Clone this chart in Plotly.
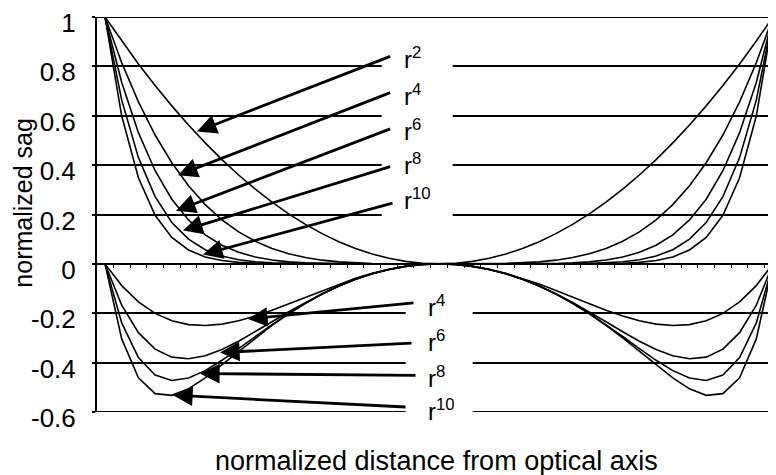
import plotly.graph_objects as go

# ---------------- data ----------------
x_vals = [-1.0, -0.95, -0.9, -0.85, -0.8, -0.75, -0.7, -0.65, -0.6, -0.55, -0.5,
          -0.45, -0.4, -0.35, -0.3, -0.25, -0.2, -0.15, -0.1, -0.05, 0.0,
          0.05, 0.1, 0.15, 0.2, 0.25, 0.3, 0.35, 0.4, 0.45, 0.5,
          0.55, 0.6, 0.65, 0.7, 0.75, 0.8, 0.85, 0.9, 0.95, 1.0]

sag_r2 = [1.0, 0.9025, 0.81, 0.7225, 0.64, 0.5625, 0.49, 0.4225, 0.36, 0.3025, 0.25,
          0.2025, 0.16, 0.1225, 0.09, 0.0625, 0.04, 0.0225, 0.01, 0.0025, 0.0,
          0.0025, 0.01, 0.0225, 0.04, 0.0625, 0.09, 0.1225, 0.16, 0.2025, 0.25,
          0.3025, 0.36, 0.4225, 0.49, 0.5625, 0.64, 0.7225, 0.81, 0.9025, 1.0]
sag_r4 = [1.0, 0.8145, 0.6561, 0.522, 0.4096, 0.3164, 0.2401, 0.1785, 0.1296, 0.0915, 0.0625,
          0.041, 0.0256, 0.015, 0.0081, 0.0039, 0.0016, 0.0005, 0.0001, 0.0, 0.0,
          0.0, 0.0001, 0.0005, 0.0016, 0.0039, 0.0081, 0.015, 0.0256, 0.041, 0.0625,
          0.0915, 0.1296, 0.1785, 0.2401, 0.3164, 0.4096, 0.522, 0.6561, 0.8145, 1.0]
sag_r6 = [1.0, 0.7351, 0.5314, 0.3772, 0.2621, 0.178, 0.1176, 0.0754, 0.0467, 0.0277, 0.0156,
          0.0083, 0.0041, 0.0018, 0.0007, 0.0002, 0.0001, 0.0, 0.0, 0.0, 0.0,
          0.0, 0.0, 0.0, 0.0001, 0.0002, 0.0007, 0.0018, 0.0041, 0.0083, 0.0156,
          0.0277, 0.0467, 0.0754, 0.1176, 0.178, 0.2621, 0.3772, 0.5314, 0.7351, 1.0]
sag_r8 = [1.0, 0.6634, 0.4305, 0.2725, 0.1678, 0.1001, 0.0576, 0.0319, 0.0168, 0.0084, 0.0039,
          0.0017, 0.0007, 0.0002, 0.0001, 0.0, 0.0, 0.0, 0.0, 0.0, 0.0,
          0.0, 0.0, 0.0, 0.0, 0.0, 0.0001, 0.0002, 0.0007, 0.0017, 0.0039,
          0.0084, 0.0168, 0.0319, 0.0576, 0.1001, 0.1678, 0.2725, 0.4305, 0.6634, 1.0]
sag_r10 = [1.0, 0.5987, 0.3487, 0.1969, 0.1074, 0.0563, 0.0282, 0.0135, 0.006, 0.0025, 0.001,
           0.0003, 0.0001, 0.0, 0.0, 0.0, 0.0, 0.0, 0.0, 0.0, 0.0,
           0.0, 0.0, 0.0, 0.0, 0.0, 0.0, 0.0, 0.0001, 0.0003, 0.001,
           0.0025, 0.006, 0.0135, 0.0282, 0.0563, 0.1074, 0.1969, 0.3487, 0.5987, 1.0]

low_r4 = [0.0, -0.088, -0.1539, -0.2005, -0.2304, -0.2461, -0.2499, -0.244, -0.2304, -0.211, -0.1875,
          -0.1615, -0.1344, -0.1075, -0.0819, -0.0586, -0.0384, -0.022, -0.0099, -0.0025, 0.0,
          -0.0025, -0.0099, -0.022, -0.0384, -0.0586, -0.0819, -0.1075, -0.1344, -0.1615, -0.1875,
          -0.211, -0.2304, -0.244, -0.2499, -0.2461, -0.2304, -0.2005, -0.1539, -0.088, 0.0]
low_r6 = [0.0, -0.1674, -0.2786, -0.3454, -0.3779, -0.3845, -0.3724, -0.3471, -0.3133, -0.2748, -0.2344,
          -0.1942, -0.1559, -0.1207, -0.0893, -0.0623, -0.0399, -0.0225, -0.01, -0.0025, 0.0,
          -0.0025, -0.01, -0.0225, -0.0399, -0.0623, -0.0893, -0.1207, -0.1559, -0.1942, -0.2344,
          -0.2748, -0.3133, -0.3471, -0.3724, -0.3845, -0.3779, -0.3454, -0.2786, -0.1674, 0.0]
low_r8 = [0.0, -0.2391, -0.3795, -0.45, -0.4722, -0.4624, -0.4324, -0.3906, -0.3432, -0.2941, -0.2461,
          -0.2008, -0.1593, -0.1223, -0.0899, -0.0625, -0.04, -0.0225, -0.01, -0.0025, 0.0,
          -0.0025, -0.01, -0.0225, -0.04, -0.0625, -0.0899, -0.1223, -0.1593, -0.2008, -0.2461,
          -0.2941, -0.3432, -0.3906, -0.4324, -0.4624, -0.4722, -0.45, -0.3795, -0.2391, 0.0]
low_r10 = [0.0, -0.3038, -0.4613, -0.5256, -0.5326, -0.5062, -0.4618, -0.409, -0.354, -0.3, -0.249,
           -0.2022, -0.1599, -0.1225, -0.09, -0.0625, -0.04, -0.0225, -0.01, -0.0025, 0.0,
           -0.0025, -0.01, -0.0225, -0.04, -0.0625, -0.09, -0.1225, -0.1599, -0.2022, -0.249,
           -0.3, -0.354, -0.409, -0.4618, -0.5062, -0.5326, -0.5256, -0.4613, -0.3038, 0.0]

y_tick_vals = [-0.6, -0.4, -0.2, 0, 0.2, 0.4, 0.6, 0.8, 1]
y_tick_text = ["-0.6", "-0.4", "-0.2", "0", "0.2", "0.4", "0.6", "0.8", "1"]
y_min, y_max = -0.6, 1.0

upper_labels = ["r<sup>2</sup>", "r<sup>4</sup>", "r<sup>6</sup>", "r<sup>8</sup>", "r<sup>10</sup>"]
lower_labels = ["r<sup>4</sup>", "r<sup>6</sup>", "r<sup>8</sup>", "r<sup>10</sup>"]

x_title = "normalized distance from optical axis"
y_title = "normalized sag"

# ---------------- layout helpers ----------------
upper_label_pos = [(-0.1108, 0.833), (-0.1108, 0.685), (-0.1108, 0.544), (-0.1108, 0.404), (-0.1108, 0.263)]
upper_arrows = [  # (tail x, tail y, head x, head y)
    (-0.1416, 0.843, -0.7246, 0.536),
    (-0.1416, 0.696, -0.7814, 0.359),
    (-0.1416, 0.549, -0.7874, 0.215),
    (-0.1416, 0.396, -0.7665, 0.135),
    (-0.1347, 0.248, -0.7066, 0.038),
]
lower_label_pos = [(-0.0389, -0.171), (-0.0389, -0.311), (-0.0389, -0.460), (-0.0389, -0.592)]
lower_arrows = [
    (-0.0719, -0.157, -0.5719, -0.223),
    (-0.0778, -0.321, -0.6557, -0.359),
    (-0.0659, -0.452, -0.7156, -0.444),
    (-0.0958, -0.580, -0.7964, -0.532),
]

FONT = "Liberation Sans, Arial, Helvetica, sans-serif"

fig = go.Figure()
for ys in [sag_r2, sag_r4, sag_r6, sag_r8, sag_r10, low_r4, low_r6, low_r8, low_r10]:
    fig.add_trace(go.Scatter(x=x_vals, y=ys, mode="lines",
                             line=dict(color="black", width=1.6),
                             showlegend=False, hoverinfo="skip"))

shapes = [
    # gridlines on the plot edges (plotly skips grid lines at the range ends)
    dict(type="line", xref="paper", yref="y", x0=0, x1=1, y0=y_max, y1=y_max,
         line=dict(color="black", width=2), layer="below"),
    dict(type="line", xref="paper", yref="y", x0=0, x1=1, y0=y_min, y1=y_min,
         line=dict(color="black", width=2), layer="below"),
    # white text boxes behind the labels
    dict(type="rect", xref="x", yref="y", x0=-0.1716, x1=0.0410, y0=0.1, y1=0.9,
         fillcolor="white", line=dict(width=0), layer="above"),
    dict(type="rect", xref="x", yref="y", x0=-0.0997, x1=0.1009, y0=-0.7, y1=-0.1,
         fillcolor="white", line=dict(width=0), layer="above"),
]

annotations = []
for (tx, ty, hx, hy) in upper_arrows + lower_arrows:
    annotations.append(dict(x=hx, y=hy, ax=tx, ay=ty, xref="x", yref="y", axref="x", ayref="y",
                            text="", showarrow=True, arrowhead=2, arrowsize=1.4,
                            arrowwidth=2.8, arrowcolor="black", standoff=0))
for txt, (lx, ly) in zip(upper_labels + lower_labels, upper_label_pos + lower_label_pos):
    annotations.append(dict(x=lx, y=ly, xref="x", yref="y", text=txt, showarrow=False,
                            xanchor="left", yanchor="middle",
                            font=dict(family=FONT, size=24, color="black")))
annotations.append(dict(x=-0.109, y=0.53, xref="paper", yref="paper", text=y_title,
                        textangle=-90, showarrow=False, xanchor="center", yanchor="middle",
                        font=dict(family=FONT, size=25, color="black")))
annotations.append(dict(x=0.5007, y=-0.124, xref="paper", yref="paper", text=x_title,
                        showarrow=False, xanchor="center", yanchor="middle",
                        font=dict(family=FONT, size=27, color="black")))

# the page body adds an 8px margin, so the figure is sized to fill the rest of the window
fig.update_layout(
    width=768, height=467,
    margin=dict(l=89, r=0, t=5, b=63, pad=0),
    paper_bgcolor="white", plot_bgcolor="white",
    shapes=shapes, annotations=annotations,
    font=dict(family=FONT, color="black"),
    xaxis=dict(range=[-1.024, 1.009], anchor="free", position=0.375, side="bottom",
               showline=True, linecolor="black", linewidth=2,
               showgrid=False, zeroline=False,
               ticks="outside", ticklen=3, tickwidth=1, tickcolor="black",
               tick0=-1.025, dtick=0.05, showticklabels=False),
    yaxis=dict(range=[y_min, y_max], tickvals=y_tick_vals, ticktext=y_tick_text,
               showline=True, linecolor="black", linewidth=2,
               showgrid=True, gridcolor="black", gridwidth=2, zeroline=False,
               ticks="outside", ticklen=3, tickwidth=2, tickcolor="black",
               tickfont=dict(family=FONT, size=26, color="black"),
               ticklabelstandoff=11, ticklabelshift=6, ticklabeloverflow="allow"),
)

fig.write_html("out.html")
